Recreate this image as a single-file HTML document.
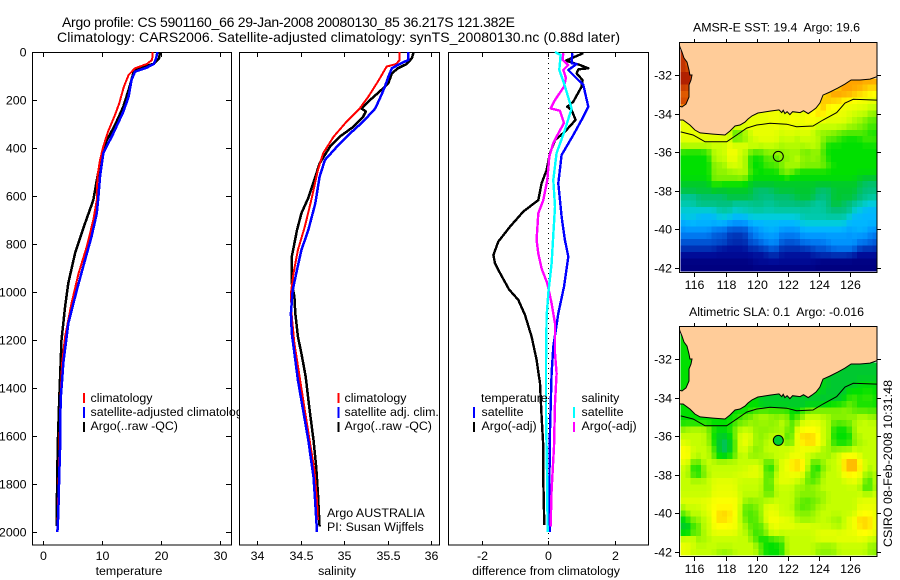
<!DOCTYPE html>
<html><head><meta charset="utf-8"><title>Argo profile</title>
<style>
html,body{margin:0;padding:0;background:#fff}
svg{display:block}
text{font-family:"Liberation Sans",sans-serif;font-size:12.4px;fill:#000;white-space:pre}
.frame{fill:#fff;stroke:#000;stroke-width:1;shape-rendering:crispEdges}
.hollow{fill:none;stroke:#000;stroke-width:1;shape-rendering:crispEdges}
</style></head>
<body>
<svg id="fig" xmlns="http://www.w3.org/2000/svg" width="900" height="580" viewBox="0 0 900 580">
<defs>
<clipPath id="clipTop"><rect x="680.5" y="42" width="196" height="229.5"/></clipPath>
<clipPath id="clipTopLand"><rect x="680" y="42" width="197" height="230"/></clipPath>
<clipPath id="clipBot"><rect x="680.5" y="326" width="196" height="229.5"/></clipPath>
<clipPath id="clipBotLand"><rect x="680" y="326" width="197" height="230"/></clipPath>
</defs>
<rect x="0" y="0" width="900" height="580" fill="#fff"/>
<text x="62" y="27" style="font-size:14px" textLength="453">Argo profile: CS 5901160_66 29-Jan-2008 20080130_85 36.217S 121.382E</text>
<text x="57" y="42" style="font-size:14px" textLength="563">Climatology: CARS2006. Satellite-adjusted climatology: synTS_20080130.nc (0.88d later)</text>

<g id="p1">
<rect class="frame" x="32.5" y="52.5" width="199" height="492.5"/>
<g id="p1lines"></g>
<g id="p1axis"></g>
<text x="129" y="575" text-anchor="middle">temperature</text>
<g>
<rect x="83" y="393" width="2" height="10" fill="#f00"/>
<rect x="83" y="407" width="2" height="11" fill="#00f"/>
<rect x="83" y="422" width="2" height="10" fill="#000"/>
<text x="90.5" y="402">climatology</text>
<text x="90.5" y="416">satellite-adjusted climatology</text>
<text x="90.5" y="430">Argo(..raw -QC)</text>
</g>
</g>

<g id="p2">
<rect class="frame" x="239.5" y="52.5" width="200" height="492.5"/>
<g id="p2lines"></g>
<g id="p2axis"></g>
<text x="337" y="575" text-anchor="middle">salinity</text>
<g>
<rect x="337.5" y="393" width="2" height="10" fill="#f00"/>
<rect x="337.5" y="407" width="2" height="11" fill="#00f"/>
<rect x="337.5" y="422" width="2" height="10" fill="#000"/>
<text x="344.5" y="402">climatology</text>
<text x="344.5" y="416">satellite adj. clim.</text>
<text x="344.5" y="430">Argo(..raw -QC)</text>
</g>
<text x="327" y="517">Argo AUSTRALIA</text>
<text x="327" y="531">PI: Susan Wijffels</text>
</g>

<g id="p3">
<rect class="frame" x="448.5" y="52.5" width="200" height="492.5"/>
<line x1="548.5" y1="53" x2="548.5" y2="545" stroke="#000" stroke-width="1" stroke-dasharray="1 4" shape-rendering="crispEdges"/>
<g id="p3lines"></g>
<g id="p3axis"></g>
<text x="546" y="575" text-anchor="middle">difference from climatology</text>
<g>
<text x="481" y="402">temperature</text>
<text x="581.5" y="402">salinity</text>
<rect x="473" y="407" width="2" height="11" fill="#00f"/>
<rect x="473" y="422" width="2" height="10" fill="#000"/>
<rect x="573" y="407" width="2" height="11" fill="#0ff"/>
<rect x="573" y="422" width="2" height="10" fill="#f0f"/>
<text x="481.5" y="416">satellite</text>
<text x="481.5" y="430">Argo(-adj)</text>
<text x="581.5" y="416">satellite</text>
<text x="581.5" y="430">Argo(-adj)</text>
</g>
</g>

<g id="m1">
<text x="776.5" y="31.5" text-anchor="middle" textLength="167">AMSR-E SST: 19.4  Argo: 19.6</text>
<g id="m1cells" clip-path="url(#clipTop)"></g>
<g id="m1land" clip-path="url(#clipTopLand)"></g>
<rect class="hollow" x="679.5" y="42.5" width="197.5" height="230"/>
<g id="m1axis"></g>
</g>

<g id="m2">
<text x="776.5" y="316" text-anchor="middle" textLength="175">Altimetric SLA: 0.1  Argo: -0.016</text>
<g id="m2cells" clip-path="url(#clipBot)"></g>
<g id="m2land" clip-path="url(#clipBotLand)"></g>
<rect class="hollow" x="679.5" y="326.5" width="197.5" height="230"/>
<g id="m2axis"></g>
</g>

<text x="892" y="547" transform="rotate(-90 892 547)" textLength="167">CSIRO 08-Feb-2008 10:31:48</text>
</svg>

<script>
// ---- axis tick values ----
const depthTicks = [0,200,400,600,800,1000,1200,1400,1600,1800,2000];
const tempTicks = [0,10,20,30];
const salTicks = [34,34.5,35,35.5,36];
const salTickLabels = ['34','34.5','35','35.5','36'];
const diffTicks = [-2,0,2];
const lonTicks = [116,118,120,122,124,126];
const latTicks = [32,34,36,38,40,42];

// ---- temperature panel ----
const tempArgoDepth = [0,26,50,61,71,89,158,228,304,367,429,520,617,714,838,963,1061,1200,1353,1450,1645,1895,1975];
const tempArgoValues = [19.85,19.7,18.7,17,16,15.3,14.5,13.6,12.2,10.8,9.9,9.2,8.5,7.1,5.4,4.25,3.7,3.1,2.85,2.7,2.45,2.3,2.3];
const tempClimDepth = [0,33,50,68,96,144,214,262,332,394,450,520,617,700,811,922,1047,1186,1297,1450,1700,1950];
const tempClimValues = [18.6,18.5,17.6,15.6,14.5,13.7,12.9,12.2,11,10.2,9.65,9.2,9.1,8.5,7.4,6,4.8,3.7,3.2,2.9,2.7,2.45];
const tempSatDepth = [0,26,50,65,82,117,186,249,339,422,520,608,672,770,867,992,1131,1297,1367,1450,1645,1770,1922,2000];
const tempSatValues = [19.4,19.2,18.8,17.6,15.6,15,14.5,13.6,11.9,10.2,9.65,9.35,9.1,8.2,7.1,5.7,4.25,3.4,3.2,2.95,2.85,2.7,2.55,2.4];

// ---- salinity panel ----
const salArgoDepth = [0,26,50,68,89,130,158,200,235,248,270,311,353,394,464,520,608,672,742,853,964,1019,1089,1186,1256,1353,1478,1617,1728,1838,1978];
const salArgoValues = [35.8,35.78,35.72,35.62,35.55,35.51,35.43,35.3,35.2,35.25,35.22,35.11,34.95,34.84,34.72,34.67,34.59,34.51,34.46,34.4,34.4,34.43,34.44,34.47,34.51,34.56,34.6,34.65,34.68,34.7,34.72];
const salClimDepth = [0,33,50,61,117,186,235,290,353,422,492,608,728,825,922,1005,1103,1214,1353,1492,1631,1742,1867,1950];
const salClimValues = [35.64,35.64,35.6,35.49,35.4,35.28,35.18,35.03,34.88,34.76,34.7,34.63,34.55,34.47,34.42,34.39,34.4,34.43,34.49,34.55,34.61,34.66,34.69,34.7];
const salSatDepth = [0,33,50,68,103,144,179,235,290,339,394,450,520,631,742,825,908,992,1089,1172,1283,1367,1492,1617,1770,1880,2000];
const salSatValues = [35.74,35.74,35.64,35.55,35.51,35.47,35.43,35.36,35.22,35.07,34.92,34.78,34.72,34.67,34.59,34.51,34.46,34.41,34.39,34.4,34.44,34.47,34.53,34.59,34.65,34.67,34.69];

// ---- difference panel ----
const diffTArgoDepth = [5,36,54,68,72,89,117,144,207,228,242,283,332,367,421,492,547,617,665,728,790,846,881,921,989,1033,1096,1186,1283,1381,1519,1644,1783,1971];
const diffTArgoValues = [1.05,0.53,0.95,1.2,0.9,0.85,1.03,1.0,0.75,0.57,0.7,0.82,0.5,0.2,0.05,-0.05,-0.2,-0.3,-0.75,-1.15,-1.5,-1.65,-1.6,-1.45,-1.18,-0.9,-0.7,-0.5,-0.35,-0.25,-0.2,-0.15,-0.15,-0.12];
const diffTSatDepth = [5,47,50,75,103,137,228,270,346,429,547,686,783,853,978,1089,1228,1339,1575,1825,1999];
const diffTSatValues = [0.72,0.7,0.85,0.6,0.8,1.05,1.2,1.05,0.75,0.4,0.3,0.4,0.5,0.6,0.47,0.3,0.15,0.1,0.05,0.03,0.05];
const diffSArgoDepth = [5,33,54,75,108,144,200,235,245,296,339,379,436,533,617,672,783,840,902,964,1047,1131,1256,1339,1464,1644,1825,1978];
const diffSArgoValues = [0.45,0.43,0.6,0.45,0.53,0.47,0.2,0.07,0.35,0.47,0.3,0.15,0.03,-0.03,-0.15,-0.3,-0.35,-0.3,-0.2,-0.03,0.1,0.2,0.2,0.25,0.2,0.17,0.1,0.07];
const diffSSatDepth = [0,12,75,130,235,325,421,533,644,783,881,1005,1103,1297,1505,1825,1999];
const diffSSatValues = [0.2,0.37,0.33,0.47,0.7,0.5,0.25,0.15,0.2,0.14,0.1,0,-0.05,-0.07,-0.07,-0.03,-0.02];

// ---- map grids: colour-level per 1/3 degree cell, rows north to south ----
const sstLevels = [
[20],
[20,19],
[20,19,19],
[20,19,19],
[20,21,19],
[20,21,19,15,15,15,15,15,15,15,15,15,15,15,15,15,15,15,15,15,15,15,15,15,15,15,15,15,15,15,15,18,18,18,18,18,18,18],
[20,19,19,15,15,15,15,15,15,15,15,15,15,15,15,15,15,15,15,15,15,15,15,15,15,15,15,15,15,18,18,18,18,18,18,17,17,17],
[19,19,19,15,15,15,15,15,15,15,15,15,15,15,15,15,15,15,15,15,15,15,15,15,15,15,15,18,18,18,18,18,18,17,17,17,16,16],
[19,20,19,15,15,15,15,15,15,15,15,15,15,15,15,15,15,15,15,15,15,15,15,15,15,15,15,18,17,17,17,16,16,16,15,15,15,15],
[20,19,15,15,15,15,15,15,15,15,15,15,15,15,15,15,15,15,15,15,15,15,15,15,15,15,17,17,16,16,16,15,15,15,15,15,14,14],
[15,15,15,15,15,15,15,15,15,15,15,15,15,15,15,15,15,16,15,15,15,16,15,15,16,16,17,17,15,15,15,15,15,14,14,14,13,13],
[15,15,15,15,15,15,15,15,15,15,15,15,15,15,15,15,15,15,16,15,15,16,16,15,16,16,15,15,15,15,15,15,14,14,13,13,12,12],
[15,15,15,15,15,15,15,15,15,15,15,15,15,15,15,15,15,15,15,15,15,15,15,15,15,15,14,14,14,14,14,14,13,13,13,12,12,12],
[15,15,15,15,15,15,15,15,15,15,11,12,13,15,15,15,15,15,15,14,15,15,14,15,15,14,13,13,13,13,12,12,12,12,12,12,11,11],
[15,15,15,15,15,15,15,15,15,15,11,13,13,13,15,15,15,15,15,14,14,14,14,14,14,14,14,13,12,12,12,11,11,11,11,12,12,12],
[14,14,14,14,14,14,14,14,14,15,15,15,15,15,14,14,14,14,14,13,14,14,13,14,14,14,14,12,11,11,11,11,11,11,11,11,11,11],
[11,11,11,11,11,12,14,14,14,16,16,14,14,12,12,12,13,13,13,13,13,13,14,12,12,13,13,12,11,11,11,11,11,11,11,11,11,11],
[11,11,11,11,11,11,14,14,14,15,15,14,14,11,11,11,12,12,12,13,13,13,14,13,13,13,13,12,11,11,11,11,11,11,11,11,11,11],
[11,11,11,11,11,11,13,13,13,15,15,14,14,11,11,11,12,12,12,13,13,14,14,13,13,13,13,13,12,11,11,11,11,11,11,11,11,11],
[11,11,11,11,11,11,13,13,13,13,13,14,14,12,11,11,11,11,11,12,14,12,11,11,11,11,11,11,11,11,11,11,11,11,11,11,11,11],
[11,11,11,11,11,11,13,13,13,13,13,13,13,11,11,11,11,11,11,11,11,11,11,11,11,11,11,11,11,11,11,11,11,11,10,10,10,10],
[10,10,10,10,10,10,12,11,11,11,11,11,11,10,10,10,10,10,10,10,10,10,10,10,10,10,10,10,10,10,10,10,10,10,10,9,9,9],
[10,10,10,10,10,10,10,10,10,10,10,10,10,10,9,9,9,9,10,10,10,10,10,10,10,10,9,9,9,10,10,10,10,10,9,9,9,9],
[8,8,8,9,9,9,9,9,9,10,10,10,10,10,9,9,9,9,9,9,9,9,10,10,10,10,9,9,9,10,10,10,10,10,9,9,8,8],
[8,8,8,9,9,9,9,9,9,9,8,8,8,8,9,9,8,8,9,9,9,9,9,9,9,8,8,8,9,10,10,9,9,8,8,7,7,7],
[7,7,7,7,7,7,7,8,8,8,7,8,8,8,8,8,8,8,8,8,8,8,8,8,8,8,8,8,9,9,9,9,9,7,7,6,6,6],
[7,7,7,6,6,6,6,7,7,7,6,6,6,7,7,7,7,7,7,7,7,7,7,8,8,8,8,8,8,8,8,8,7,6,6,6,6,6],
[5,6,6,6,6,6,6,6,6,5,5,5,5,6,6,6,6,6,6,6,6,6,6,7,7,7,7,7,7,7,7,7,6,6,6,6,6,6],
[5,5,5,5,5,5,4,4,4,3,3,3,3,4,5,5,6,6,6,5,5,5,5,6,6,6,6,6,6,6,6,6,5,6,6,6,5,5],
[4,4,4,4,4,4,3,3,3,2,2,2,2,4,4,5,5,5,5,4,4,4,4,5,5,5,5,5,5,5,5,5,5,5,5,5,4,4],
[3,3,3,3,3,3,3,3,3,2,2,2,2,3,3,4,4,5,5,3,3,3,3,4,4,4,4,4,5,5,5,5,5,5,4,4,4,3],
[2,2,2,2,2,2,2,1,1,1,1,1,1,2,2,2,3,3,3,2,2,2,2,2,2,3,3,3,3,4,4,4,4,4,2,2,2,2],
[1,1,1,1,1,1,1,1,1,1,1,1,1,1,1,1,1,2,2,1,1,1,1,1,1,1,2,2,2,2,2,2,2,1,1,1,1,1],
[0,0,0,0,0,0,0,0,0,0,0,0,0,0,1,1,1,1,1,1,1,1,1,1,1,1,0,0,0,0,0,0,0,0,0,0,0,0],
[0,0,0,0,0,0,0,0,0,0,0,0,0,0,0,0,0,0,0,0,0,0,0,0,0,0,0,0,0,0,0,0,0,0,0,0,0,0]
];
const slaLevels = [
[11],
[11,11],
[11,11,11],
[11,11,11],
[11,11,11],
[11,11,11,11,11,11,11,11,11,11,11,11,11,11,11,11,11,11,11,11,11,11,11,11,11,11,11,11,11,11,11,10,10,10,10,10,10,10],
[11,11,11,11,11,11,11,11,11,11,11,11,11,11,11,11,11,11,11,11,11,11,11,11,11,11,11,11,11,10,10,10,10,10,10,10,10,10],
[11,11,11,11,11,11,11,11,11,11,11,11,11,11,11,11,11,11,11,11,11,11,11,11,11,11,11,10,10,10,10,10,10,10,10,10,10,10],
[11,11,11,11,11,11,11,11,11,11,11,11,11,11,11,11,11,11,11,11,11,11,11,11,11,11,11,11,10,10,10,10,10,10,11,11,11,11],
[11,11,11,11,11,11,11,11,11,11,11,11,11,11,11,11,11,11,11,11,11,11,11,11,11,11,11,10,10,10,10,10,11,11,11,11,11,11],
[11,11,11,11,11,11,11,11,11,11,11,11,11,11,11,10,10,10,10,10,10,10,10,10,10,10,10,10,10,10,10,10,12,12,11,12,12,11],
[11,11,11,11,11,11,11,11,11,11,11,11,11,11,11,10,10,10,10,10,10,10,10,10,10,10,10,10,11,11,11,12,12,12,11,11,11,11],
[11,11,11,11,11,11,11,11,11,11,11,11,11,11,12,12,12,12,12,12,12,11,11,11,13,13,13,13,13,13,13,13,13,12,12,12,12,12],
[11,11,11,11,11,11,11,11,11,11,11,12,12,13,13,14,14,13,13,13,13,11,11,14,14,14,14,14,13,13,13,13,13,13,14,14,13,13],
[11,11,11,11,11,11,11,11,11,11,12,12,13,13,13,13,13,13,13,14,14,11,14,14,15,15,15,14,14,12,12,12,13,13,14,14,14,14],
[13,14,14,14,14,13,11,11,11,11,13,14,14,14,13,13,13,13,13,14,12,12,15,16,16,16,16,14,14,11,11,11,11,14,14,14,14,14],
[14,14,14,14,14,13,11,10,10,11,12,15,15,15,13,13,13,14,14,14,12,12,16,17,17,17,16,14,14,11,11,11,11,13,14,14,14,14],
[15,14,14,14,14,13,11,10,9,10,12,15,15,15,13,13,14,14,14,14,12,12,15,17,17,17,17,14,14,11,11,11,11,13,13,14,14,14],
[16,16,14,14,14,14,12,10,9,10,12,15,15,13,13,13,14,14,14,14,15,15,15,15,15,15,14,14,13,13,13,13,13,14,14,14,14,14],
[16,16,14,14,14,14,12,10,10,11,12,14,14,13,13,13,14,14,14,14,14,15,15,15,14,14,14,13,13,14,15,16,16,16,14,14,14,14],
[15,15,12,12,14,14,14,14,14,14,14,14,14,14,14,14,12,12,14,15,15,17,17,17,14,12,12,14,14,14,14,17,18,18,17,14,14,14],
[14,14,11,11,13,14,14,14,14,14,14,14,14,15,15,15,11,11,13,15,15,17,17,17,14,11,11,12,14,14,14,17,18,18,17,14,14,14],
[14,14,11,11,12,14,14,14,14,14,14,15,15,15,15,15,12,12,14,15,15,15,15,15,12,12,12,14,14,14,14,16,16,16,15,14,12,14],
[14,14,14,14,14,14,15,15,15,15,15,14,14,14,14,14,12,12,15,15,15,15,14,14,12,12,12,14,14,14,14,14,15,15,15,12,12,14],
[14,14,14,14,14,14,15,15,15,15,15,14,14,14,14,14,12,12,14,14,14,14,13,13,13,13,14,14,14,14,14,14,14,14,14,11,11,14],
[14,14,14,14,14,14,15,15,15,15,15,14,14,14,14,14,12,12,14,14,14,14,13,13,13,13,13,13,14,14,14,14,14,14,14,14,14,14],
[15,15,15,15,15,15,16,16,16,16,16,15,13,13,13,13,14,14,14,14,14,14,13,12,12,12,13,13,14,14,14,14,14,14,15,15,15,15],
[14,14,14,14,15,15,16,16,16,16,16,14,12,12,13,13,15,15,15,14,14,14,12,12,12,13,13,14,14,14,14,14,14,14,15,15,15,15],
[11,14,14,14,14,15,16,17,17,17,16,14,12,12,12,13,15,15,15,14,14,14,13,13,13,13,14,14,14,14,14,14,14,14,16,16,16,15],
[11,11,13,13,14,14,16,17,17,16,16,14,12,12,12,13,15,16,16,15,15,15,13,13,13,13,14,14,14,13,13,14,15,16,17,17,17,15],
[10,10,12,12,14,14,16,16,16,16,16,14,14,12,12,12,13,15,15,15,15,15,15,15,15,15,14,14,14,14,13,14,15,15,17,17,17,15],
[10,10,12,12,14,14,15,15,15,15,15,14,14,12,12,12,13,15,15,14,14,14,14,14,14,14,15,15,15,15,15,15,15,15,16,16,16,15],
[15,15,15,13,13,14,14,14,14,14,14,14,14,14,11,11,11,11,12,12,14,14,14,14,14,14,15,15,15,15,15,15,15,15,15,15,14,14],
[15,15,14,14,14,14,14,14,14,14,14,14,14,14,14,12,11,11,11,11,14,14,14,14,14,14,13,13,13,13,14,14,14,14,14,14,13,13],
[15,15,14,14,14,14,14,13,13,13,14,14,14,14,14,12,11,11,11,11,14,14,14,14,14,14,13,13,13,13,14,14,14,14,14,14,13,13]
];
const levelColors = ['#000080','#000c98','#0030b4','#0054d4','#0078f0','#0098ff','#00b6ff','#00ccdc','#00c8a4','#00c078','#00c830','#00e000','#50ea00','#90f400','#c4ff00','#e8ff00','#ffff00','#ffd400','#ffa400','#e86400','#b82800','#900000'];

// ---- coastline and 200 m isobath, degrees east / degrees south ----
const coastLon = [115.0,115.08,115.21,115.34,115.53,115.66,115.72,115.85,115.79,115.66,115.66,115.47,115.21,115.0,115.0,115.28,115.72,116.04,116.37,117.2,117.97,118.29,118.61,118.93,119.25,119.44,119.7,120.08,120.85,121.43,121.6,121.7,121.81,121.95,122.13,122.3,122.78,123.0,123.3,123.54,123.8,124.05,124.25,124.7,125.21,125.66,126.05,126.62,127.26,127.75,127.75];
const coastLat = [30.3,30.55,30.81,31.12,31.33,31.74,32.0,32.0,32.26,32.52,33.14,33.5,33.66,33.6,34.33,34.33,34.59,34.85,35.0,35.06,35.11,34.9,34.64,34.59,34.44,34.28,34.12,33.97,33.87,33.81,33.95,33.83,34.0,33.9,34.05,33.9,33.95,33.85,34.0,33.87,33.71,33.45,33.04,32.88,32.67,32.47,32.26,32.26,32.21,32.08,30.3];
const isobathLon = [115.13,115.92,116.69,118.08,118.72,119.36,120.0,120.85,121.92,122.56,123.61,124.25,125.13,125.66,126.19,127.69];
const isobathLat = [34.95,35.11,35.46,35.46,35.11,34.75,34.59,34.5,34.55,34.68,34.64,34.33,33.95,33.45,33.26,33.3];
const floatLon = [121.382];
const floatLat = [36.217];

// ---- axis functions ----
const yDepth = d => 52 + 0.24 * d;
const xTemp = t => 43.3 + 5.88 * t;
const xSal = s => 257 + 87 * (s - 34);
const xDiff = v => 548.3 + 33.3 * v;
const xLon = lon => 694.3 + 15.6 * (lon - 116);
const yLatTop = lat => 75 + 19.3 * (lat - 32);
const yLatBot = lat => 359 + 19.3 * (lat - 32);

const NS = 'http://www.w3.org/2000/svg';
function make(parent, tag, attrs) {
  const el = document.createElementNS(NS, tag);
  for (const k in attrs) el.setAttribute(k, attrs[k]);
  document.getElementById(parent).appendChild(el);
  return el;
}

function drawProfile(parent, name, xf, values, depths, color, width) {
  const pts = values.map((v, i) => xf(v).toFixed(1) + ',' + yDepth(depths[i]).toFixed(1)).join(' ');
  const line = make(parent, 'polyline', {points: pts, fill: 'none', stroke: color, 'stroke-width': width, 'shape-rendering': 'crispEdges', 'stroke-linejoin': 'round'});
  
  
}

drawProfile('p1lines', 'temperature-argo-line', xTemp, tempArgoValues, tempArgoDepth, '#000', 2.5);
drawProfile('p1lines', 'temperature-climatology-line', xTemp, tempClimValues, tempClimDepth, '#f00', 2);
drawProfile('p1lines', 'temperature-satellite-line', xTemp, tempSatValues, tempSatDepth, '#00f', 2.5);
drawProfile('p2lines', 'salinity-argo-line', xSal, salArgoValues, salArgoDepth, '#000', 2.5);
drawProfile('p2lines', 'salinity-climatology-line', xSal, salClimValues, salClimDepth, '#f00', 2);
drawProfile('p2lines', 'salinity-satellite-line', xSal, salSatValues, salSatDepth, '#00f', 2.5);
drawProfile('p3lines', 'difference-temperature-argo-line', xDiff, diffTArgoValues, diffTArgoDepth, '#000', 2.4);
drawProfile('p3lines', 'difference-temperature-satellite-line', xDiff, diffTSatValues, diffTSatDepth, '#00f', 2.4);
drawProfile('p3lines', 'difference-salinity-argo-line', xDiff, diffSArgoValues, diffSArgoDepth, '#f0f', 2.4);
drawProfile('p3lines', 'difference-salinity-satellite-line', xDiff, diffSSatValues, diffSSatDepth, '#0ff', 2.4);

function tick(parent, name, x1, y1, x2, y2) {
  const t = make(parent, 'line', {x1: x1, y1: y1, x2: x2, y2: y2, stroke: '#000', 'stroke-width': 1, 'shape-rendering': 'crispEdges'});
  
  
}
function label(parent, name, x, y, anchor, str) {
  const t = make(parent, 'text', {x: x, y: y, 'text-anchor': anchor});
  t.textContent = str;
  
  
}

depthTicks.forEach(d => {
  const y = Math.round(yDepth(d)) + 0.5;
  tick('p1axis', 'depth-tick-left', 32, y, 37, y);
  tick('p1axis', 'depth-tick-right', 226, y, 231, y);
  label('p1axis', 'depth-tick-label', 26.5, y + 4, 'end', String(d));
});
function xAxis(parent, prefix, ticks, labels, xf) {
  ticks.forEach((v, i) => {
    const x = Math.round(xf(v)) + 0.5;
    tick(parent, prefix + '-tick-top', x, 53, x, 57);
    tick(parent, prefix + '-tick-bottom', x, 541, x, 545);
    label(parent, prefix + '-tick-label', x, 560, 'middle', labels[i]);
  });
}
xAxis('p1axis', 'temperature', tempTicks, tempTicks.map(String), xTemp);
xAxis('p2axis', 'salinity', salTicks, salTickLabels, xSal);
xAxis('p3axis', 'difference', diffTicks, diffTicks.map(String), xDiff);

// The source map is a smooth field, so each cell blends lightly with its four
// neighbours and takes its colour from a continuous ramp over levelColors.
function blendedLevel(grid, r, c) {
  let sum = grid[r][c] * 2, weight = 2;
  [[r - 1, c], [r + 1, c], [r, c - 1], [r, c + 1]].forEach(p => {
    const row = grid[p[0]];
    if (row && row[p[1]] !== undefined) { sum += row[p[1]]; weight += 1; }
  });
  return sum / weight;
}
function rampColor(level) {
  const lo = Math.max(0, Math.min(levelColors.length - 1, Math.floor(level)));
  const hi = Math.min(levelColors.length - 1, lo + 1);
  const f = level - lo;
  const chan = (hex, i) => parseInt(hex.substr(1 + i * 2, 2), 16);
  const parts = [0, 1, 2].map(i => Math.round(chan(levelColors[lo], i) * (1 - f) + chan(levelColors[hi], i) * f));
  return 'rgb(' + parts.join(',') + ')';
}

function drawMap(cellsId, landId, axisId, prefix, grid, yLat, circleFill) {
  const nRows = grid.length;
  grid.forEach((row, r) => {
    const latTop = 42.17 - (nRows - r) / 3;
    row.forEach((level, c) => {
      const lon = 115.1 + c / 3;
      const rect = make(cellsId, 'rect', {
        x: xLon(lon).toFixed(2),
        y: yLat(latTop).toFixed(2),
        width: (xLon(lon + 1 / 3) - xLon(lon) + 0.4).toFixed(2),
        height: (yLat(latTop + 1 / 3) - yLat(latTop) + 0.4).toFixed(2),
        fill: rampColor(blendedLevel(grid, r, c)),
        'shape-rendering': 'crispEdges'
      });
      
      
    });
  });
  const land = make(landId, 'polygon', {
    points: coastLon.map((lon, i) => xLon(lon).toFixed(1) + ',' + yLat(coastLat[i]).toFixed(1)).join(' '),
    fill: '#ffcc99', stroke: '#000', 'stroke-width': 1
  });
  
  
  const iso = make(landId, 'polyline', {
    points: isobathLon.map((lon, i) => xLon(lon).toFixed(1) + ',' + yLat(isobathLat[i]).toFixed(1)).join(' '),
    fill: 'none', stroke: '#000', 'stroke-width': 1
  });
  
  
  const dot = make(landId, 'circle', {
    cx: xLon(floatLon[0]).toFixed(1),
    cy: yLat(floatLat[0]).toFixed(1),
    r: 5, fill: circleFill, stroke: '#000', 'stroke-width': 1
  });
  
  

  const top = Math.round(yLat(30.29));
  const bottom = top + 230;
  lonTicks.forEach(lon => {
    const x = Math.round(xLon(lon)) + 0.5;
    tick(axisId, prefix + '-lon-tick-top', x, top - 3, x, top + 1);
    tick(axisId, prefix + '-lon-tick-bottom', x, bottom + 1, x, bottom + 5);
    label(axisId, prefix + '-lon-label', x, bottom + 17, 'middle', String(lon));
  });
  latTicks.forEach(lat => {
    const y = Math.round(yLat(lat)) + 0.5;
    tick(axisId, prefix + '-lat-tick-left', 675, y, 680, y);
    tick(axisId, prefix + '-lat-tick-right', 877, y, 881, y);
    label(axisId, prefix + '-lat-label', 672, y + 4, 'end', '-' + lat);
  });
}
drawMap('m1cells', 'm1land', 'm1axis', 'sst-map', sstLevels, yLatTop, 'none');
drawMap('m2cells', 'm2land', 'm2axis', 'sla-map', slaLevels, yLatBot, '#00d030');
</script>
</body></html>
